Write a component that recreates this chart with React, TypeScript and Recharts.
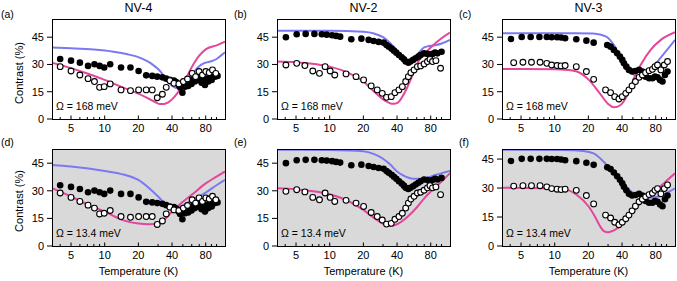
import React from 'react';
import { ComposedChart, Line, Scatter, XAxis, YAxis, CartesianGrid } from 'recharts';

// ---------- tick labels ----------
const xMajorTicks = [5, 10, 20, 40, 80];
const xMinorTicks = [4, 6, 7, 8, 9, 30, 50, 60, 70, 90, 100];
const yTicks = [0, 15, 30, 45];
const titles = ['NV-4', 'NV-2', 'NV-3'];
const panelLabels = ['(a)', '(b)', '(c)', '(d)', '(e)', '(f)'];
const omegaLabels = ['Ω = 168 meV', 'Ω = 13.4 meV'];

// ---------- measured data: [temperature K, contrast %] ----------
const nv4Filled = [
  [4.0, 33.0], [5.0, 32.1], [6.0, 31.0], [7.1, 29.2], [8.1, 30.1], [9.0, 29.2], [9.9, 28.3], [11.2, 30.1],
  [14.0, 28.3], [17.0, 28.3], [20.1, 26.4], [23.5, 24.0], [26.6, 23.7], [29.5, 23.3], [32.8, 22.9],
  [35.5, 22.2], [38.3, 21.5], [41.6, 21.1], [43.5, 20.3], [44.6, 19.6], [46.0, 18.6], [47.2, 17.4],
  [49.5, 14.5], [52.3, 17.8], [55.7, 18.2], [57.5, 20.5], [59.7, 19.3], [62.0, 21.8], [64.0, 20.6],
  [66.5, 22.6], [68.6, 21.5], [71.0, 22.4], [73.5, 20.0], [76.0, 21.2], [78.8, 18.7], [82.0, 22.3],
  [84.4, 20.6], [88.0, 23.0], [90.4, 21.5], [94.0, 24.0], [96.8, 23.3], [102.0, 23.7],
];
const nv4Open = [
  [4.0, 28.8], [5.0, 26.4], [6.0, 24.2], [7.1, 22.2], [8.1, 20.6], [9.0, 17.4], [9.9, 17.8], [11.2, 19.3],
  [14.0, 16.0], [17.0, 15.6], [20.1, 16.0], [23.5, 16.0], [26.6, 16.0], [29.5, 11.7], [32.8, 13.6],
  [35.5, 17.4], [38.3, 21.1], [41.6, 19.6], [46.0, 19.3], [50.5, 20.6], [55.0, 22.0], [60.5, 25.1],
  [65.0, 23.3], [69.8, 26.1], [74.8, 24.2], [80.2, 26.1], [86.0, 25.5], [92.0, 27.0], [98.5, 25.1],
];
const nv2Filled = [
  [4.06, 45.0], [5.07, 46.6], [6.1, 46.8], [7.3, 46.8], [8.5, 46.6], [9.4, 46.4], [10.5, 46.1], [11.4, 45.7],
  [12.4, 45.3], [15.6, 43.9], [19.2, 44.2], [22.3, 43.5], [24.7, 42.9], [27.4, 42.4], [30.4, 42.0],
  [32.2, 40.7], [33.8, 39.8], [35.8, 38.7], [37.5, 37.6], [39.4, 36.5], [41.6, 35.2], [44.0, 33.9],
  [46.1, 32.8], [47.8, 31.6], [50.5, 31.0], [52.7, 31.6], [55.7, 32.5], [58.6, 33.4], [62.0, 34.3],
  [65.0, 35.2], [69.8, 36.1], [74.8, 35.8], [78.8, 35.2], [83.0, 35.8], [87.6, 36.5], [92.0, 36.1],
  [100.0, 37.0],
];
const nv2Open = [
  [4.06, 29.7], [5.07, 30.6], [6.0, 29.4], [7.06, 26.4], [8.1, 25.1], [9.1, 28.8], [10.1, 26.4], [11.1, 24.2],
  [14.0, 24.8], [17.2, 23.3], [20.1, 21.5], [23.5, 18.2], [26.6, 16.0], [29.5, 14.1], [32.2, 11.9],
  [35.5, 12.3], [38.3, 14.5], [41.6, 16.0], [44.6, 17.8], [47.8, 20.6], [50.5, 23.3], [53.2, 25.5],
  [56.8, 27.0], [60.8, 28.8], [65.0, 29.2], [69.8, 30.3], [74.8, 31.6], [78.8, 32.8], [83.0, 31.6],
  [89.0, 32.1], [98.0, 27.9],
];
const nv3Filled = [
  [4.06, 44.0], [5.07, 45.1], [6.1, 45.1], [7.3, 45.1], [8.5, 45.1], [9.4, 45.0], [10.5, 45.0], [11.4, 44.8],
  [12.4, 44.4], [15.6, 43.9], [19.2, 43.1], [22.3, 42.0], [29.5, 40.7], [31.6, 39.8], [33.8, 38.0],
  [36.2, 36.1], [38.3, 34.3], [40.2, 32.5], [41.6, 30.6], [43.7, 28.8], [46.1, 27.0], [49.2, 26.1],
  [52.7, 26.4], [56.8, 27.0], [60.8, 26.1], [65.0, 23.3], [69.8, 22.4], [74.8, 22.4], [78.8, 23.3],
  [83.0, 22.9], [87.6, 21.5], [92.0, 20.6], [96.8, 24.2], [102.0, 26.1],
];
const nv3Open = [
  [4.3, 31.0], [5.2, 31.2], [6.2, 31.2], [7.4, 31.2], [8.5, 30.6], [9.4, 29.7], [10.5, 29.4], [11.4, 29.2],
  [12.4, 29.4], [15.6, 28.8], [19.2, 26.1], [22.3, 21.8], [28.5, 16.0], [31.6, 14.5], [34.4, 12.3],
  [37.5, 11.0], [40.2, 12.3], [43.2, 14.1], [46.1, 16.0], [49.2, 18.2], [52.7, 20.6], [56.8, 22.9],
  [60.8, 24.2], [65.0, 25.5], [69.8, 26.6], [74.8, 27.3], [78.8, 28.8], [83.0, 29.7], [89.0, 27.0],
  [95.5, 29.7], [102.0, 31.6],
];

// ---------- model curves ----------
const aBlue = [[3.38, 39.3], [5, 38.9], [8, 38.2], [12, 37], [16, 35.6], [20, 34], [24, 31.8], [27, 29.8], [30, 27.5], [33, 24.6], [36, 21.2], [40, 18.3], [43, 17.1], [46, 16.8], [49, 17.4], [52, 18.6], [56, 21], [60, 24], [65, 27], [70, 29], [75, 30.3], [80, 31], [90, 31.8], [100, 33], [110, 35], [119, 36.7]];
const aPink = [[3.38, 31], [5, 28], [7, 25], [10, 21.5], [15, 17], [20, 14], [25, 11], [28, 9.5], [31, 8.3], [34, 8.3], [37, 9.2], [40, 10.8], [45, 14.5], [50, 19], [55, 24], [60, 28.5], [65, 32], [70, 34.8], [80, 38.3], [100, 40.5], [119, 42.5]];
const bBlue = [[3.38, 48.5], [10, 48.5], [20, 48], [25, 47], [30, 45], [35, 41.5], [40, 37.5], [45, 34], [48, 32.5], [51, 31.8], [54, 32], [57, 33], [62, 36], [70, 39.4], [80, 40.3], [90, 40.7], [100, 41.5], [119, 43.5]];
const bPink = [[3.38, 31.6], [5, 31.2], [10, 28.8], [15, 25.1], [20, 20.6], [25, 15], [30, 10.8], [33, 9.3], [36, 8.4], [39, 8.5], [42, 9.8], [44.6, 12.3], [48, 15.8], [51.2, 19.6], [56.8, 26], [62, 31.6], [70, 35.5], [80, 39.3], [100, 44.4], [119, 47.5]];
const cBlue = [[3.38, 47.2], [15, 47.2], [22, 47], [26, 46.3], [29.5, 45], [33.8, 40.7], [38.8, 34.3], [44.6, 27.9], [51.2, 24.2], [56.8, 22.9], [62.6, 23.7], [72, 27], [83, 31.6], [98, 37], [119, 43.5]];
const cPink = [[3.38, 27.5], [10, 27.4], [13, 27], [15.8, 26.1], [20.2, 21.5], [25.3, 14.1], [30, 8.3], [33.8, 6.4], [38.8, 7.7], [44.6, 13.2], [51.2, 22.4], [58.7, 29.7], [72, 38], [89, 43.5], [119, 47.7]];
const dBlue = [[3.38, 44], [5, 43.2], [10, 40.8], [15, 38.7], [20, 35.9], [25, 31.4], [30, 26.9], [33, 24.3], [36, 22.5], [40, 21.4], [44, 21.1], [48, 21.6], [55, 23.5], [65, 26], [80, 29], [100, 33], [119, 35.9]];
const dPink = [[3.38, 31.4], [5, 26.9], [7, 22.5], [10, 18.7], [15, 13.8], [20, 12.2], [25, 11.8], [30, 12.5], [35, 15], [40, 18.7], [50, 24], [60, 27.8], [80, 34], [100, 37.7], [119, 40.5]];
const eBlue = [[3.38, 52.3], [10, 52.1], [20, 51.5], [25, 49.9], [30, 47.4], [35, 44.1], [40, 40.5], [45, 38.5], [50, 37.2], [55, 36.6], [60, 36.5], [70, 36.8], [80, 37.7], [100, 39.6], [119, 40.8]];
const ePink = [[3.38, 31.4], [5, 30.8], [10, 28.1], [15, 24.1], [20, 19.6], [25, 15.1], [30, 12], [35, 10.9], [40, 11.8], [50, 16], [60, 20.9], [70, 25.9], [80, 29.6], [100, 35], [119, 39.6]];
const fBlue = [[3.38, 49.8], [12, 49.7], [18, 49.2], [22.3, 47.9], [27.4, 43.6], [33.8, 37.6], [41.6, 31.6], [51.2, 27.2], [60.8, 25.5], [72, 25], [83, 25.5], [98, 27.2], [119, 29.8]];
const fPink = [[3.38, 30.2], [10, 29.8], [12.4, 29.3], [15.8, 26.4], [20.2, 20.3], [23, 15], [25.3, 10.5], [27.5, 7.7], [30, 7.1], [33.8, 8.1], [41.6, 12.2], [51.2, 18.6], [60.8, 22.9], [83, 29.5], [98, 33.3], [119, 37.6]];

// ---------- styling ----------
const FONT = '"Liberation Sans", Arial, Helvetica, sans-serif';
const BLUE = '#7b79f2';
const PINK = '#e5459a';
const GRAY = '#d9d9d9';
const X_DOMAIN: [number, number] = [3.38, 119];
const PLOT_W = 173;
const M_LEFT = 5;
const Y_W = 30;
const X_H = 20;
const M_TOP = 5;
const M_RIGHT = 5;

type Pt = { t: number; c: number };
const toPts = (arr: number[][]): Pt[] => arr.map(([t, c]) => ({ t, c }));

const allXTicks = [...xMinorTicks, ...xMajorTicks].sort((a, b) => a - b);

const XTick = (props: any) => {
  const { x, y, payload } = props;
  const v = payload.value;
  const major = xMajorTicks.includes(v);
  return (
    <g>
      <line x1={x} x2={x} y1={y} y2={y - (major ? 3.5 : 2)} stroke="#000" strokeWidth={1} />
      {major && (
        <text x={x} y={y + 13} textAnchor="middle" fontSize={11} fill="#000" fontFamily={FONT}>
          {v}
        </text>
      )}
    </g>
  );
};

const FilledDot = (p: any) => <circle cx={p.cx} cy={p.cy} r={3.3} fill="#000" />;
const OpenDot = (p: any) => <circle cx={p.cx} cy={p.cy} r={2.9} fill="#fff" stroke="#000" strokeWidth={1.1} />;

type PanelCfg = {
  left: number;
  top: number;
  h: number;
  ymax: number;
  filled: number[][];
  open: number[][];
  blue: number[][];
  pink: number[][];
  bg: string;
};

const panels: PanelCfg[] = [
  { left: 52, top: 19, h: 100, ymax: 55, filled: nv4Filled, open: nv4Open, blue: aBlue, pink: aPink, bg: '#fff' },
  { left: 277, top: 19, h: 100, ymax: 55, filled: nv2Filled, open: nv2Open, blue: bBlue, pink: bPink, bg: '#fff' },
  { left: 502, top: 19, h: 100, ymax: 55, filled: nv3Filled, open: nv3Open, blue: cBlue, pink: cPink, bg: '#fff' },
  { left: 52, top: 149, h: 97, ymax: 52.7, filled: nv4Filled, open: nv4Open, blue: dBlue, pink: dPink, bg: GRAY },
  { left: 277, top: 149, h: 97, ymax: 52.7, filled: nv2Filled, open: nv2Open, blue: eBlue, pink: ePink, bg: GRAY },
  { left: 502, top: 149, h: 97, ymax: 50.2, filled: nv3Filled, open: nv3Open, blue: fBlue, pink: fPink, bg: GRAY },
];

const Panel = ({ cfg }: { cfg: PanelCfg }) => {
  const width = M_LEFT + Y_W + PLOT_W + M_RIGHT;
  const height = M_TOP + cfg.h + X_H;
  return (
    <>
      <div style={{ position: 'absolute', left: cfg.left - M_LEFT - Y_W, top: cfg.top - M_TOP }}>
        <ComposedChart
          width={width}
          height={height}
          margin={{ top: M_TOP, right: M_RIGHT, bottom: 0, left: M_LEFT }}
        >
          <CartesianGrid horizontal={false} vertical={false} fill={cfg.bg} stroke="none" />
          <XAxis
            dataKey="t"
            type="number"
            scale="log"
            domain={X_DOMAIN}
            allowDataOverflow
            ticks={allXTicks}
            interval={0}
            tick={<XTick />}
            tickSize={0}
            tickMargin={0}
            tickLine={false}
            axisLine={false}
            height={X_H}
          />
          <YAxis
            dataKey="c"
            type="number"
            domain={[0, cfg.ymax]}
            allowDataOverflow
            ticks={yTicks}
            interval={0}
            width={Y_W}
            tickSize={5}
            tickMargin={3}
            axisLine={false}
            tickLine={{ stroke: '#000', strokeWidth: 1 }}
            tick={{ fontSize: 11, fill: '#000', fontFamily: FONT }}
          />
          <Line data={toPts(cfg.blue)} dataKey="c" type="monotone" stroke={BLUE} strokeWidth={2} dot={false} isAnimationActive={false} />
          <Line data={toPts(cfg.pink)} dataKey="c" type="monotone" stroke={PINK} strokeWidth={2} dot={false} isAnimationActive={false} />
          <Scatter data={toPts(cfg.filled)} dataKey="c" shape={FilledDot} isAnimationActive={false} />
          <Scatter data={toPts(cfg.open)} dataKey="c" shape={OpenDot} isAnimationActive={false} />
        </ComposedChart>
      </div>
      <div
        style={{
          position: 'absolute',
          left: cfg.left,
          top: cfg.top,
          width: PLOT_W + 1,
          height: cfg.h + 1,
          border: '1px solid #000',
          boxSizing: 'border-box',
          pointerEvents: 'none',
        }}
      />
    </>
  );
};

export default function App() {
  const colLefts = [52, 277, 502];
  const labelPos = [
    [1, 18], [234, 18], [459, 18],
    [1, 146], [234, 146], [459, 146],
  ];
  return (
    <div style={{ position: 'absolute', left: 0, top: 0, width: 677, height: 281, background: '#fff', overflow: 'hidden' }}>
      {panels.map((p, i) => (
        <Panel key={i} cfg={p} />
      ))}
      <svg
        width={677}
        height={281}
        style={{ position: 'absolute', left: 0, top: 0, pointerEvents: 'none' }}
        fontFamily={FONT}
      >
        {titles.map((t, i) => (
          <text key={t} x={colLefts[i] + PLOT_W / 2} y={12} textAnchor="middle" fontSize={12.5} fill="#000">
            {t}
          </text>
        ))}
        {panelLabels.map((l, i) => (
          <text key={l} x={labelPos[i][0]} y={labelPos[i][1]} fontSize={10.5} fill="#000">
            {l}
          </text>
        ))}
        {panels.map((p, i) => (
          <text key={'o' + i} x={p.left + 4} y={p.top + p.h - 9.5} fontSize={10.5} fill="#000">
            {i < 3 ? omegaLabels[0] : omegaLabels[1]}
          </text>
        ))}
        <text transform="translate(23,73) rotate(-90)" textAnchor="middle" fontSize={11} fill="#000">
          Contrast (%)
        </text>
        <text transform="translate(23,201) rotate(-90)" textAnchor="middle" fontSize={11} fill="#000">
          Contrast (%)
        </text>
        {colLefts.map((l, i) => (
          <text key={'x' + i} x={l + PLOT_W / 2} y={275} textAnchor="middle" fontSize={11} fill="#000">
            Temperature (K)
          </text>
        ))}
      </svg>
    </div>
  );
}
